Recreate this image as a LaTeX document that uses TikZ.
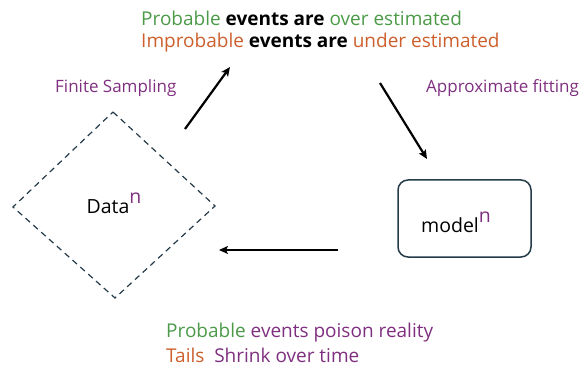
\documentclass[tikz,border=0pt]{standalone}
\usepackage{fontspec}
\setmainfont{Open Sans}
\usetikzlibrary{arrows.meta,shapes.geometric}
\definecolor{cgreen}{HTML}{4C9A48}
\definecolor{corange}{HTML}{CC5F2C}
\definecolor{cpurple}{HTML}{7F2F7F}
\definecolor{cslate}{HTML}{243B4A}
\tikzset{
  x=1pt,y=-1pt,
  txt/.style={inner sep=0pt,anchor=west,font=\fontsize{19}{22}\selectfont},
  lbl/.style={inner sep=0pt,anchor=west,text=cpurple,font=\fontsize{17}{20}\selectfont},
  flow/.style={line width=2.2pt,-{Stealth[length=9pt,width=8pt,inset=2pt]}},
  inner/.style={inner sep=0pt,font=\fontsize{19.5}{22}\selectfont},
}
\newcommand{\supn}{\raisebox{0.5em}{\textcolor{cpurple}{n}}}
\begin{document}
\begin{tikzpicture}
\useasboundingbox (0,0) rectangle (581,366);
% top text
\node[txt] (top1) at (141,18) {\textcolor{cgreen}{Probable} \textbf{events are} \textcolor{cgreen}{over estimated}};
\node[txt] (top2) at (141,43) {\textcolor{corange}{Improbable} \textbf{events are} \textcolor{corange}{under estimated}};
% labels
\node[lbl] (fs) at (55,88) {Finite Sampling};
\node[lbl] (af) at (426,88) {Approximate fitting};
% diamond
\coordinate (dT) at (113,112);
\coordinate (dR) at (215,206);
\coordinate (dB) at (115,298);
\coordinate (dL) at (13,207);
\draw[cslate,line width=1.2pt,dash pattern=on 6pt off 4.5pt] (dT) -- (dR) -- (dB) -- (dL) -- cycle;
\node[inner] (data) at (114,203) {Data\supn};
% model box
\node[draw=cslate,line width=1.5pt,rounded corners=10pt,minimum width=133pt,minimum height=77pt,inner sep=0pt] (mbox) at (464.5,218.5) {};
\node[inner] (model) at (456,222) {model\supn};
% arrows
\coordinate (a1s) at (185,129);
\coordinate (a1e) at (230,67);
\coordinate (a2s) at (380,83);
\coordinate (a2e) at (427,159);
\coordinate (a3s) at (338,250);
\coordinate (a3e) at (219,250);
\draw[flow] (a1s) -- (a1e);
\draw[flow] (a2s) -- (a2e);
\draw[flow] (a3s) -- (a3e);
% bottom text
\node[txt] (bot1) at (166,333) {\textcolor{cgreen}{Probable} \textcolor{cpurple}{events poison reality}};
\node[txt] (bot2) at (166,355.5) {\textcolor{corange}{Tails}\ \ \textcolor{cpurple}{Shrink over time}};
\end{tikzpicture}
\end{document}
